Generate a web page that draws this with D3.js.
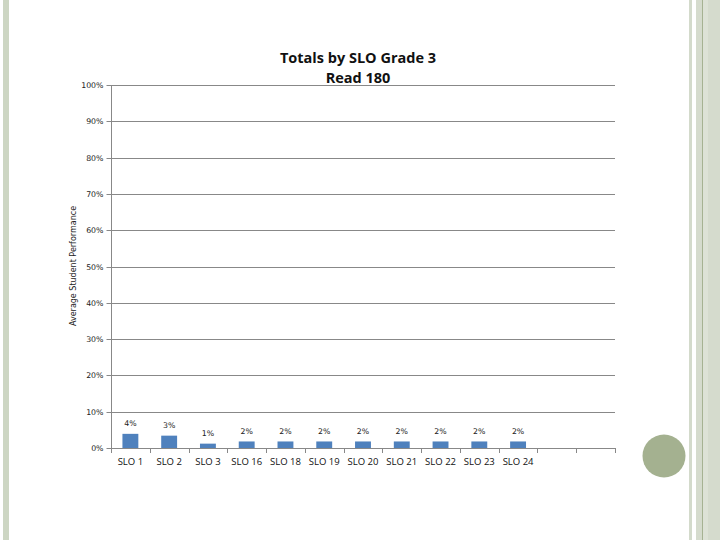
<!DOCTYPE html>
<html>
<head>
<meta charset="utf-8">
<script src="https://cdn.jsdelivr.net/npm/d3@7"></script>
<style>
  html, body { margin: 0; padding: 0; background: #fff; }
  svg { display: block; }
</style>
</head>
<body>
<svg id="chart" width="720" height="540"></svg>
<script>
// ---- data ----
const titleLines = ["Totals by SLO Grade 3", "Read 180"];
const yAxisTitle = "Average Student Performance";
const categories = ["SLO 1", "SLO 2", "SLO 3", "SLO 16", "SLO 18", "SLO 19", "SLO 20", "SLO 21", "SLO 22", "SLO 23", "SLO 24"];
const values = [0.039, 0.034, 0.012, 0.018, 0.018, 0.018, 0.018, 0.018, 0.018, 0.018, 0.018];
const emptySlots = ["", " "];
const yTicks = [0, 0.1, 0.2, 0.3, 0.4, 0.5, 0.6, 0.7, 0.8, 0.9, 1.0];

// ---- layout ----
const svg = d3.select("#chart");
const plotLeft = 111, plotRight = 615, plotTop = 85, plotBottom = 448;

// slide decoration
svg.append("rect").attr("x", 3).attr("y", 0).attr("width", 6).attr("height", 540).attr("fill", "#cdd6c3");
svg.append("rect").attr("x", 689).attr("y", 0).attr("width", 3).attr("height", 540).attr("fill", "#d3dacb");
svg.append("rect").attr("x", 696).attr("y", 0).attr("width", 24).attr("height", 540).attr("fill", "#d5dbcd");
svg.append("rect").attr("x", 702).attr("y", 0).attr("width", 1).attr("height", 540).attr("fill", "#a6b292");
svg.append("rect").attr("x", 703).attr("y", 0).attr("width", 5).attr("height", 540).attr("fill", "#dde2d6");
svg.append("circle").attr("cx", 664).attr("cy", 456).attr("r", 21.5).attr("fill", "#a4b190");

const slots = categories.concat(emptySlots);
const x = d3.scaleBand().domain(slots).range([plotLeft, plotRight]).padding(0);
const y = d3.scaleLinear().domain([0, 1]).range([plotBottom, plotTop]);
const barFrac = 0.41;

const gridColor = "#888888";

// gridlines
svg.append("g").selectAll("line").data(yTicks.filter(d => d > 0)).join("line")
  .attr("x1", plotLeft).attr("x2", plotRight)
  .attr("y1", d => Math.round(y(d)) + 0.5).attr("y2", d => Math.round(y(d)) + 0.5)
  .attr("stroke", gridColor).attr("stroke-width", 1);

// y axis
const yAxis = d3.axisLeft(y).tickValues(yTicks).tickFormat(d3.format(".0%")).tickSize(5).tickPadding(3);
const gy = svg.append("g").attr("transform", `translate(${plotLeft + 0.5},0)`).call(yAxis);
gy.select(".domain").attr("stroke", gridColor).attr("d", `M0,${plotTop}V${plotBottom}`);
gy.selectAll(".tick line").attr("stroke", gridColor);
gy.selectAll(".tick").attr("transform", d => `translate(0,${Math.round(y(d)) + 0.5})`);
gy.selectAll("text").attr("font-family", "DejaVu Sans").attr("font-size", 7.8).attr("fill", "#222").attr("dy", "0.32em");

// x axis
const xAxis = d3.axisBottom(x).tickSize(0).tickPadding(10);
const gx = svg.append("g").attr("transform", `translate(0,${Math.round(plotBottom) + 0.5})`).call(xAxis);
gx.select(".domain").attr("stroke", gridColor).attr("d", `M${plotLeft},0H${plotRight}`);
gx.selectAll("text").attr("font-family", "Open Sans").attr("font-size", 9.5).attr("fill", "#111");
// tick marks at category boundaries
const bounds = slots.map(d => x(d)).concat([plotRight]);
svg.append("g").selectAll("line").data(bounds).join("line")
  .attr("x1", d => Math.round(d) + 0.5).attr("x2", d => Math.round(d) + 0.5)
  .attr("y1", Math.round(plotBottom)).attr("y2", Math.round(plotBottom) + 5)
  .attr("stroke", gridColor);

// bars
const data = categories.map((c, i) => ({ c, v: values[i] }));
svg.append("g").selectAll("rect").data(data).join("rect")
  .attr("x", d => x(d.c) + x.bandwidth() * (1 - barFrac) / 2)
  .attr("width", x.bandwidth() * barFrac)
  .attr("y", d => y(d.v))
  .attr("height", d => y(0) - y(d.v))
  .attr("fill", "#4f81bd");

// data labels
svg.append("g").selectAll("text").data(data).join("text")
  .attr("x", d => x(d.c) + x.bandwidth() / 2)
  .attr("y", d => y(d.v) - 7.5)
  .attr("text-anchor", "middle")
  .attr("font-family", "DejaVu Sans").attr("font-size", 7.8).attr("fill", "#222")
  .text(d => d3.format(".0%")(d.v));

// title
svg.append("g").selectAll("text").data(titleLines).join("text")
  .attr("x", 358).attr("y", (d, i) => 63 + i * 20)
  .attr("text-anchor", "middle")
  .attr("font-family", "Open Sans").attr("font-weight", 700).attr("font-size", 14.5).attr("fill", "#111")
  .text(d => d);

// y axis title
svg.append("text")
  .attr("transform", "translate(76,266) rotate(-90)")
  .attr("text-anchor", "middle")
  .attr("font-family", "DejaVu Sans").attr("font-size", 8).attr("fill", "#222")
  .text(yAxisTitle);
</script>
</body>
</html>
